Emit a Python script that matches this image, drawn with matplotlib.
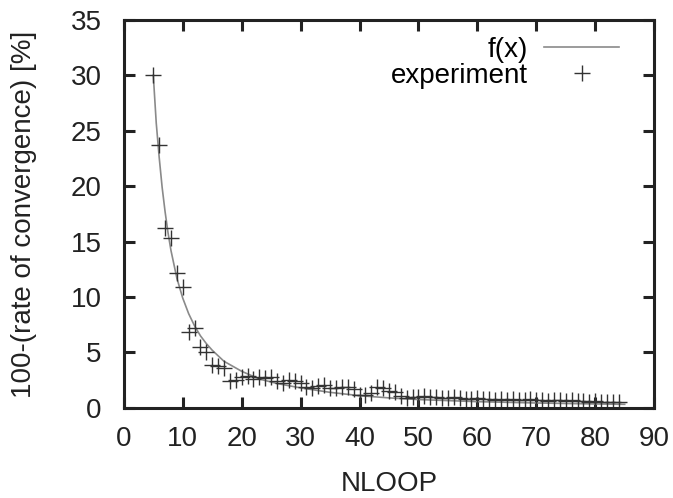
import matplotlib
matplotlib.use("Agg")
import matplotlib.pyplot as plt

plt.rcParams["font.family"] = ["Liberation Sans", "DejaVu Sans"]

# experiment points (NLOOP, 100 - rate of convergence)
nloop = list(range(5, 85))
experiment = [
    30.0, 23.7, 16.2, 15.3, 12.2, 10.9, 6.8, 7.2, 5.5, 5.0,
    3.9, 3.8, 3.6, 2.4, 2.5, 2.8, 2.9, 2.6, 2.8, 2.7,
    2.8, 2.4, 2.2, 2.5, 2.4, 2.2, 1.9, 1.8, 2.0, 2.1,
    1.8, 1.8, 1.9, 1.9, 1.7, 1.2, 1.2, 1.3, 1.9, 1.8,
    1.5, 1.4, 1.1, 0.9, 1.0, 1.0, 1.1, 1.0, 1.0, 0.9,
    0.9, 1.0, 0.9, 0.8, 0.8, 0.9, 0.8, 0.8, 0.7, 0.8,
    0.7, 0.8, 0.7, 0.7, 0.8, 0.7, 0.7, 0.6, 0.7, 0.7,
    0.6, 0.7, 0.6, 0.6, 0.5, 0.6, 0.5, 0.5, 0.5, 0.5,
]

# fitted curve f(x)
fx_x = [5, 5.5, 6, 6.5, 7, 7.5, 8, 9, 10, 11, 12, 13, 14, 15, 17, 20, 23, 26,
        30, 35, 40, 45, 50, 60, 70, 80, 85]
fx_y = [30.0, 25.7, 22.6, 19.9, 17.7, 15.8, 14.2, 11.7, 9.9, 8.5, 7.4, 6.5,
        5.8, 5.2, 4.2, 3.3, 2.6, 2.2, 1.8, 1.4, 1.1, 0.9, 0.75, 0.56, 0.44,
        0.35, 0.32]

xticks = list(range(0, 91, 10))
yticks = list(range(0, 36, 5))

fs = 20
fig = plt.figure(figsize=(6.73, 4.98), dpi=100)
ax = fig.add_axes([0.184, 0.181, 0.788, 0.779])

ax.plot(fx_x, fx_y, color="#8a8a8a", lw=1.2, label="f(x)")
ax.plot(nloop, experiment, ls="none", marker="+", ms=12, mew=1.0,
        color="#333333", label="experiment")

ax.set_xlim(0, 90)
ax.set_ylim(0, 35)
ax.set_xticks(xticks)
ax.set_yticks(yticks)
ax.tick_params(direction="in", length=8, width=2.2, top=True, right=True,
               labelsize=fs, colors="#222222")
ax.tick_params(axis="x", pad=13)
ax.tick_params(axis="y", pad=16)
for s in ax.spines.values():
    s.set_linewidth(2.2)
    s.set_color("#222222")

ax.set_xlabel("NLOOP", fontsize=fs, color="#222222", va="center")
ax.set_ylabel("100-(rate of convergence) [%]", fontsize=fs,
              color="#222222", va="center")
ax.xaxis.set_label_coords(0.5, -0.196)
ax.yaxis.set_label_coords(-0.188, 0.5)

ax.legend(loc="upper right", frameon=False, markerfirst=False, fontsize=fs,
          handlelength=2.7, handletextpad=0.6, borderaxespad=0.0,
          labelspacing=0.0, bbox_to_anchor=(0.955, 0.985))

fig.savefig("out.png", dpi=100)
